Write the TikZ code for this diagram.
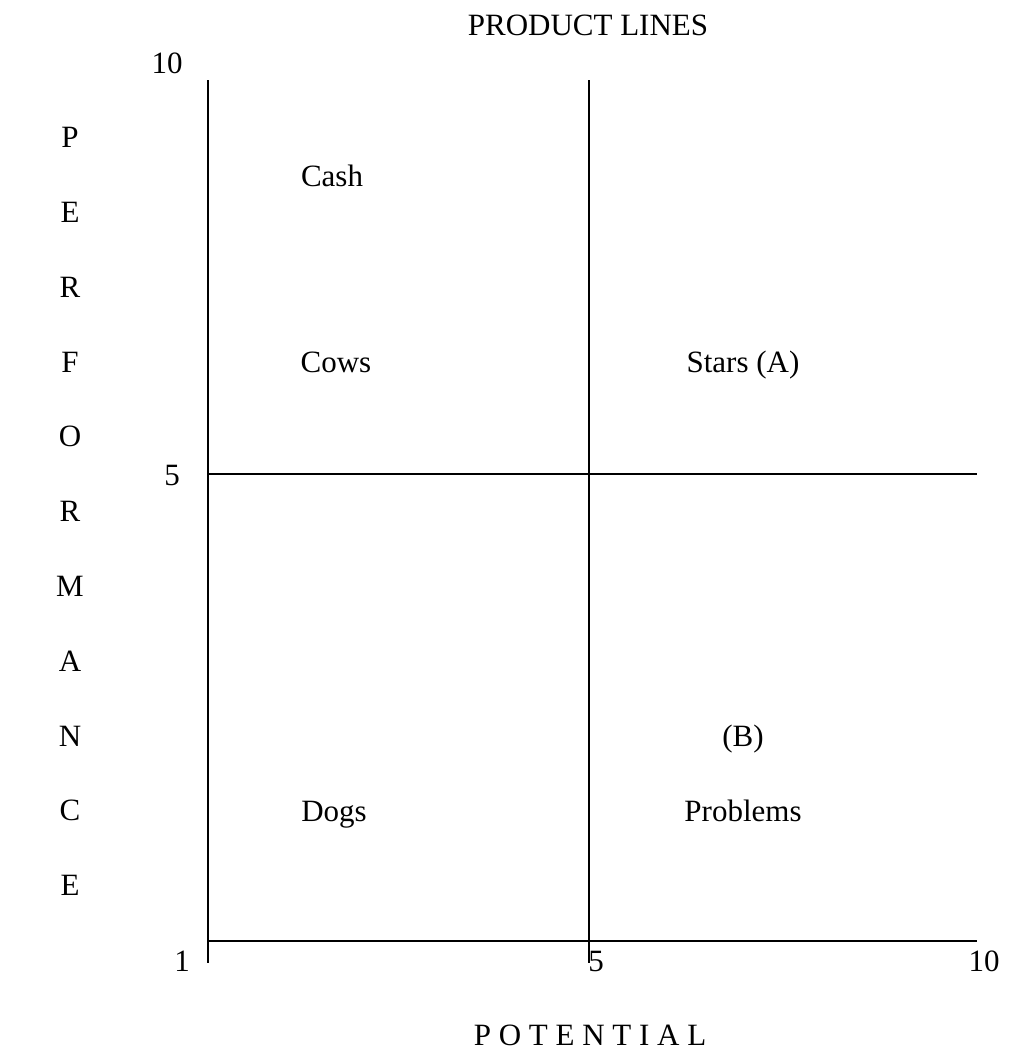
\documentclass[tikz,border=0pt]{standalone}
\usepackage{fontspec}
\setmainfont{Liberation Serif}
\begin{document}
\begin{tikzpicture}[x=1pt,y=-1pt,
  lbl/.style={inner sep=0pt,anchor=base,font=\fontsize{31}{36}\selectfont},
  axis/.style={line width=1.8pt,black}]
\useasboundingbox (0,0) rectangle (1010,1053);
% grid coordinates
\coordinate (lt) at (208,80);
\coordinate (lb) at (208,963);
\coordinate (mt) at (589,80);
\coordinate (mb) at (589,963);
\coordinate (hl) at (208,474);
\coordinate (hr) at (977,474);
\coordinate (bl) at (208,941);
\coordinate (br) at (977,941);
\draw[axis] (lt) -- (lb);
\draw[axis] (mt) -- (mb);
\draw[axis] (hl) -- (hr);
\draw[axis] (bl) -- (br);
% title and axis labels
\node[lbl] (title) at (588,35) {PRODUCT LINES};
\node[lbl] (t10) at (167,73) {10};
\node[lbl] (t5) at (172,485) {5};
\node[lbl] (b1) at (182,971) {1};
\node[lbl] (b5) at (596,971) {5};
\node[lbl] (b10) at (984,971) {10};
\node[lbl] (pot) at (590,1045) {P O T E N T I A L};
% vertical word
\foreach \ch [count=\i from 0] in {P,E,R,F,O,R,M,A,N,C,E}
  \node[lbl] (v\i) at (70,147.6+74.8*\i) {\ch};
% quadrant labels
\node[lbl] (cash) at (332,186) {Cash};
\node[lbl] (cows) at (336,372) {Cows};
\node[lbl] (stars) at (743,372) {Stars (A)};
\node[lbl] (bb) at (743,746) {(B)};
\node[lbl] (prob) at (743,821) {Problems};
\node[lbl] (dogs) at (334,821) {Dogs};
\end{tikzpicture}
\end{document}
